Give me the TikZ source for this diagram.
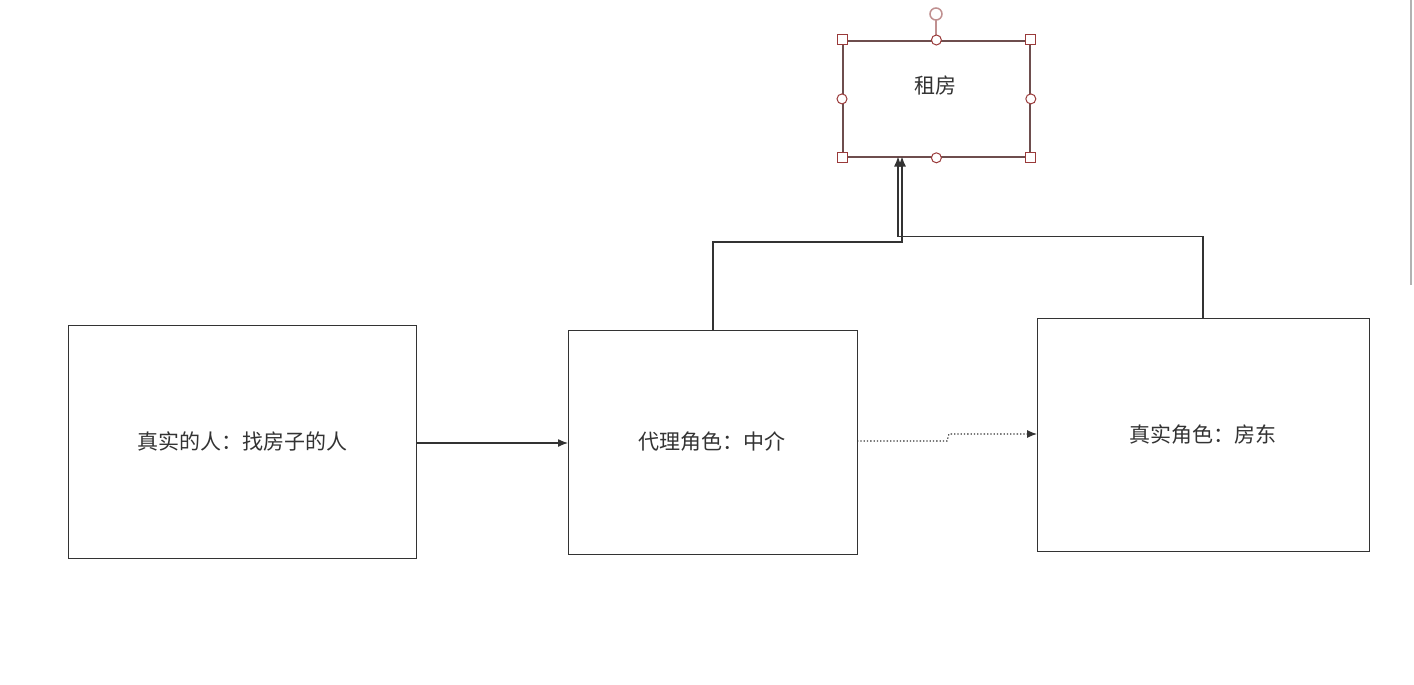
\documentclass[tikz,border=0pt]{standalone}
\usepackage{fontspec}
\setmainfont{Noto Sans CJK SC}
\usetikzlibrary{arrows.meta}
\definecolor{ink}{HTML}{333333}
\definecolor{selbox}{HTML}{6E4E4E}
\definecolor{handle}{HTML}{9A3A3A}
\definecolor{rot}{HTML}{C09090}
\begin{document}
\begin{tikzpicture}[x=1pt,y=-1pt,
  box/.style={draw=ink,line width=1.3pt,anchor=north west,inner sep=0pt,fill=white},
  lbl/.style={text=ink,font=\fontsize{21}{25}\selectfont,inner sep=0pt},
  conn/.style={draw=ink,line width=1.3pt,-{Latex[length=10pt,width=8pt]}},
  sq/.style={draw=handle,fill=white,line width=1pt,minimum size=10pt,inner sep=0pt},
  hc/.style={draw=handle,fill=white,line width=1pt,circle,minimum size=10pt,inner sep=0pt}]
\useasboundingbox (0,0) rectangle (1414,685);
\fill[white] (0,0) rectangle (1414,685);
% scrollbar edge
\draw[gray!60,line width=1.2pt] (1411,0) -- (1411,285);
% boxes
\node[box,minimum width=348pt,minimum height=233pt] (real) at (68,325) {};
\node[box,minimum width=289pt,minimum height=224pt] (proxy) at (568,330) {};
\node[box,minimum width=332pt,minimum height=233pt] (owner) at (1037,318) {};
\node[draw=selbox,line width=1.8pt,anchor=north west,inner sep=0pt,minimum width=187pt,minimum height=116pt] (rent) at (842,40) {};
\node[lbl] (tReal) at (242,441) {真实的人：找房子的人};
\node[lbl] (tProxy) at (712,442) {代理角色：中介};
\node[lbl] (tOwner) at (1203,435) {真实角色：房东};
\node[lbl] (tRent) at (935.5,85) {租房};
% connectors
\coordinate (a1) at (416,443);
\coordinate (a2) at (568,443);
\draw[conn] (a1) -- (a2);
\coordinate (d1) at (857,441);
\coordinate (d2) at (947,441);
\coordinate (d3) at (949,434);
\coordinate (d4) at (1037,434);
\draw[conn,dotted,line width=1.1pt] (d1) -- (d2) -- (d3) -- (d4);
\coordinate (p1) at (713,330);
\coordinate (p2) at (713,242);
\coordinate (p3) at (902,242);
\coordinate (p4) at (902,156.5);
\draw[conn] (p1) -- (p2) -- (p3) -- (p4);
\coordinate (o1) at (1203,318);
\coordinate (o2) at (1203,236.5);
\coordinate (o3) at (898,236.5);
\coordinate (o4) at (898,156.5);
\draw[conn] (o1) -- (o2) -- (o3) -- (o4);
% selection handles
\draw[rot,line width=1.6pt] (936,20) -- (936,40);
\node[hc,draw=rot,line width=1.5pt,minimum size=12pt] (hr) at (936,14) {};
\node[sq] (h1) at (rent.north west) {};
\node[sq] (h2) at (rent.north east) {};
\node[sq] (h3) at (rent.south west) {};
\node[sq] (h4) at (rent.south east) {};
\node[hc] (h5) at (rent.north) {};
\node[hc] (h6) at (rent.south) {};
\node[hc] (h7) at (rent.west) {};
\node[hc] (h8) at (rent.east) {};
\end{tikzpicture}
\end{document}
